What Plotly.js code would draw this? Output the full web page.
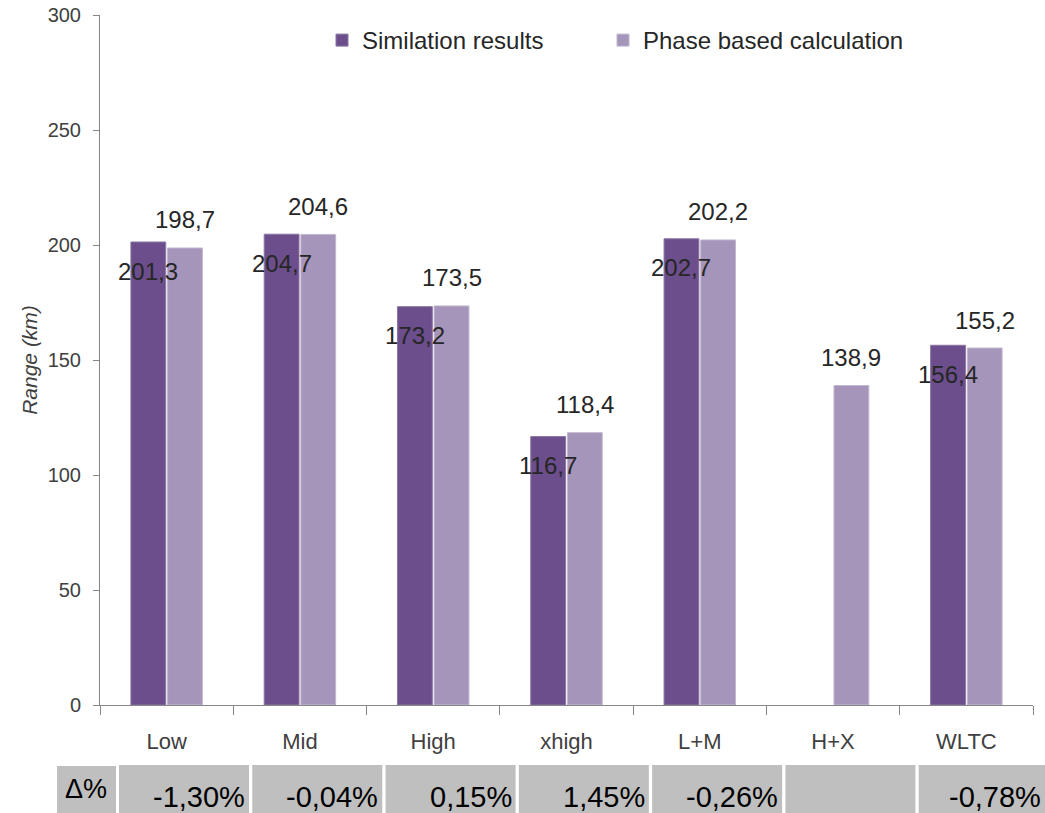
<!DOCTYPE html>
<html><head><meta charset="utf-8">
<script src="https://cdn.plot.ly/plotly-3.0.1.min.js"></script>
<style>html,body{margin:0;padding:0;background:#fff}#chart{width:1045px;height:813px}</style>
</head><body><div id="chart"></div>
<script>
// ---- data ----
const categories = ['Low', 'Mid', 'High', 'xhigh', 'L+M', 'H+X', 'WLTC'];
const simulationResults = [201.3, 204.7, 173.2, 116.7, 202.7, null, 156.4];
const phaseBasedCalculation = [198.7, 204.6, 173.5, 118.4, 202.2, 138.9, 155.2];
const deltaPercent = ['-1,30%', '-0,04%', '0,15%', '1,45%', '-0,26%', '', '-0,78%'];
const yTickValues = [0, 50, 100, 150, 200, 250, 300];

// ---- layout constants ----
const W = 1045, H = 813;
const M = {l: 100, r: 12, t: 15, b: 108};
const PW = W - M.l - M.r, PH = H - M.t - M.b;
const BARGAP = 0.45, BARGROUPGAP = 0.05;
const DARK = '#6b4e8b', LIGHT = '#a695ba';
const TXT = '#262626', AX = '#868686';
const FONT = 'Liberation Sans, Arial, sans-serif';
const px2x = p => (p - M.l) / PW;
const px2y = p => (H - M.b - p) / PH;
const fmt = v => v.toFixed(1).replace('.', ',');
const off = (1 - BARGAP) / 4;

const traces = [
  {type: 'bar', name: 'Similation results', x: categories, y: simulationResults, legend: 'legend',
   marker: {color: DARK, line: {color: '#8a76a3', width: 1}}, hoverinfo: 'x+y'},
  {type: 'bar', name: 'Phase based calculation', x: categories, y: phaseBasedCalculation, legend: 'legend2',
   marker: {color: LIGHT, line: {color: '#c2b6d0', width: 1}}, hoverinfo: 'x+y'}
];

const annotations = [];
const shapes = [];
categories.forEach((c, i) => {
  if (simulationResults[i] != null) {
    annotations.push({x: i - off, y: simulationResults[i], xref: 'x', yref: 'y',
      text: fmt(simulationResults[i]), showarrow: false, yshift: -29, yanchor: 'middle',
      font: {family: FONT, size: 24, color: TXT}});
  }
  if (phaseBasedCalculation[i] != null) {
    annotations.push({x: i + off, y: phaseBasedCalculation[i], xref: 'x', yref: 'y',
      text: fmt(phaseBasedCalculation[i]), showarrow: false, yshift: 28, yanchor: 'middle',
      font: {family: FONT, size: 24, color: TXT}});
  }
  // table cell
  const cx0 = M.l + 19 + i * PW / 7;
  const cx1 = Math.min(cx0 + 130, W);
  shapes.push({type: 'rect', xref: 'paper', yref: 'paper', layer: 'below',
    x0: px2x(cx0), x1: px2x(i === 6 ? W + 5 : cx1), y0: px2y(765), y1: px2y(820),
    fillcolor: '#bfbfbf', line: {width: 0}});
  if (deltaPercent[i]) {
    annotations.push({x: px2x(Math.min(cx1 - 2, W)), y: px2y(797), xref: 'paper', yref: 'paper',
      xanchor: 'right', yanchor: 'middle', text: deltaPercent[i], showarrow: false,
      font: {family: FONT, size: 29, color: '#000'}});
  }
});
// Δ% header cell
shapes.push({type: 'rect', xref: 'paper', yref: 'paper', layer: 'below',
  x0: px2x(57), x1: px2x(116), y0: px2y(766), y1: px2y(820),
  fillcolor: '#bfbfbf', line: {width: 0}});
annotations.push({x: px2x(86), y: px2y(789), xref: 'paper', yref: 'paper',
  xanchor: 'center', yanchor: 'middle', text: 'Δ%', showarrow: false,
  font: {family: FONT, size: 27, color: '#000'}});

const legendStyle = {orientation: 'h', xanchor: 'left', yanchor: 'top',
  font: {family: FONT, size: 24, color: TXT}, itemwidth: 30, bgcolor: 'rgba(0,0,0,0)'};

const layout = {
  width: W, height: H,
  margin: M,
  paper_bgcolor: '#fff', plot_bgcolor: '#fff',
  font: {family: FONT, color: TXT},
  barmode: 'group', bargap: BARGAP, bargroupgap: BARGROUPGAP,
  showlegend: true,
  legend: Object.assign({}, legendStyle, {x: px2x(322), y: px2y(18)}),
  legend2: Object.assign({}, legendStyle, {x: px2x(603), y: px2y(18)}),
  xaxis: {type: 'category', tickson: 'boundaries', ticks: 'outside', ticklen: 9,
    tickcolor: AX, showline: true, linecolor: AX, linewidth: 1, showgrid: false,
    tickfont: {family: FONT, size: 22, color: '#404040'}, ticklabelstandoff: 17,
    range: [-0.5, 6.5], fixedrange: true},
  yaxis: {range: [0, 300], tickvals: yTickValues, ticktext: yTickValues.map(String),
    ticks: 'outside', ticklen: 6, tickcolor: AX, showline: true, linecolor: AX, linewidth: 1,
    showgrid: false, zeroline: false, ticklabelstandoff: 8,
    tickfont: {family: FONT, size: 20, color: '#404040'},
    title: {text: 'Range (km)', standoff: 4, font: {family: FONT, size: 21, color: '#404040', style: 'italic'}},
    fixedrange: true},
  annotations: annotations,
  shapes: shapes
};

Plotly.newPlot('chart', traces, layout, {displayModeBar: false});
</script>
</body></html>
